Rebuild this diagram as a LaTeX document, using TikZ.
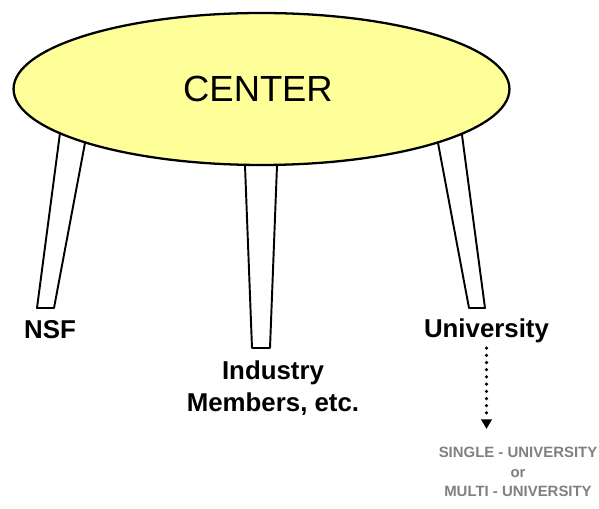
\documentclass[tikz,border=0pt]{standalone}
\usepackage{fontspec}
\setmainfont{Liberation Sans}
\usetikzlibrary{shapes.geometric, arrows.meta, positioning}
\definecolor{topyellow}{RGB}{255, 255, 153}
\definecolor{notegray}{RGB}{128, 128, 128}
\tikzset{
    tabletop/.style={
        ellipse, draw=black, fill=topyellow, line width=1.3pt,
        minimum width=9.92cm, minimum height=3.04cm, inner sep=0pt,
        font=\fontsize{20.7}{24}\selectfont
    },
    leg/.style={draw=black, fill=white, line width=1.1pt, line join=round},
    partner/.style={font=\fontsize{14.7}{18.1}\selectfont\bfseries, align=center, inner sep=0pt},
    note/.style={font=\fontsize{8.5}{11.3}\selectfont\bfseries, text=notegray, align=center, inner sep=0pt},
    dotarrow/.style={-{Triangle[length=5.5pt, width=6pt]}, line width=2pt,
        dash pattern=on 0pt off 4.1pt, line cap=round},
}
\begin{document}
\begin{tikzpicture}[x=0.02cm, y=-0.02cm]
    \useasboundingbox (0, 0) rectangle (599, 509);

    % legs first, the top hides their upper ends
    \draw[leg] (61.7, 120) -- (37, 308) -- (54, 308) -- (89.3, 120) -- cycle;
    \draw[leg] (244.4, 150) -- (252, 348) -- (270, 348) -- (277.6, 150) -- cycle;
    \draw[leg] (433.7, 120) -- (469, 308) -- (485, 308) -- (460, 120) -- cycle;

    \node[tabletop] (center) at (261.5, 89) {};
    \node (title) at (258, 88.5) {\fontsize{20.7}{24}\selectfont CENTER};

    \node[partner, anchor=base] (nsf) at (50, 339) {NSF};
    \node[partner] (industry) at (273, 388) {Industry\\Members, etc.};
    \node[partner, anchor=base] (univ) at (486.5, 338) {University};

    \node[note] (kind) at (518, 472) {SINGLE - UNIVERSITY\\or\\MULTI - UNIVERSITY};

    \draw[dotarrow, shorten <=2.5pt, shorten >=10pt] (univ.south) -- (univ.south |- kind.north);
\end{tikzpicture}
\end{document}
